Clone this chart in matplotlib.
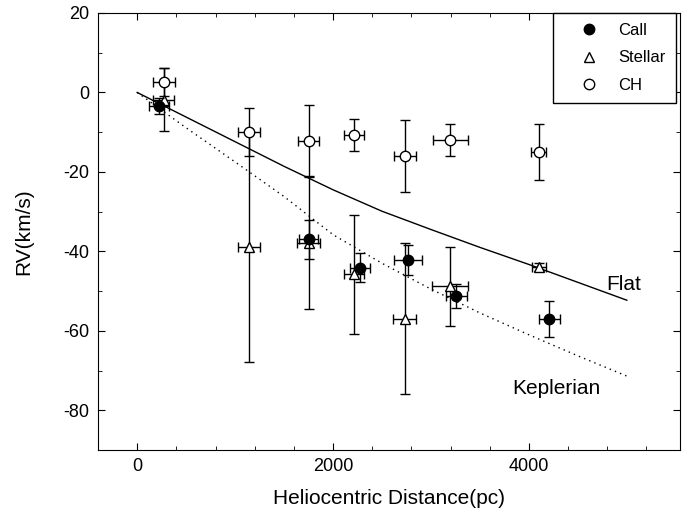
import numpy as np
import matplotlib
matplotlib.use("Agg")
import matplotlib.pyplot as plt
from matplotlib.ticker import MultipleLocator

plt.rcParams['font.family'] = ['Liberation Sans', 'DejaVu Sans']
plt.rcParams['axes.unicode_minus'] = False

# Call
call_x = [224, 1750, 2274, 2763, 3260, 4208]
call_y = [-3.3, -37, -44.1, -42.1, -51.2, -57]
call_xerr = [100, 100, 105, 145, 110, 105]
call_yerr = [2, 5, 3.6, 3.8, 3, 4.5]

# Stellar
stel_x = [270, 1141, 1750, 2213, 2730, 3196, 4107]
stel_y = [-1.8, -38.9, -37.9, -45.8, -57, -48.8, -44]
stel_xerr = [110, 114, 116, 99, 114, 184, 71]
stel_yerr = [8, 29, 16.5, 15, 19, 10, 1]

# CH
ch_x = [273, 1141, 1751, 2211, 2736, 3199, 4100]
ch_y = [2.6, -10, -12.1, -10.8, -16, -11.9, -15]
ch_xerr = [110, 114, 110, 100, 112, 182, 77]
ch_yerr = [3.5, 6, 9, 4, 9, 4, 7]

# model curves
model_d = [0, 500, 1000, 1500, 2000, 2500, 3000, 3500, 4000, 4500, 5000]
flat_rv = [0, -6.2, -12.4, -18.6, -24.5, -29.9, -34.5, -39.0, -43.3, -47.8, -52.3]
kepl_rv = [0, -8.9, -17.5, -26.2, -35.8, -43.0, -49.5, -55.5, -61.0, -66.3, -71.4]

fig = plt.figure(figsize=(6.82, 5.2), dpi=100)
ax = fig.add_axes([0.1437, 0.1346, 0.853, 0.8404])

ax.plot(model_d, flat_rv, color='black', lw=1)
ax.plot(model_d, kepl_rv, color='black', lw=1, linestyle=(0, (1, 3)))

eb = dict(ecolor='black', elinewidth=1, capsize=3.5, capthick=1, markersize=7.5,
          markeredgecolor='black', markeredgewidth=1, linestyle='none')
ax.errorbar(stel_x, stel_y, xerr=stel_xerr, yerr=stel_yerr, fmt='^',
            markerfacecolor='white', label='Stellar', zorder=3, **eb)
ax.errorbar(ch_x, ch_y, xerr=ch_xerr, yerr=ch_yerr, fmt='o',
            markerfacecolor='white', label='CH', zorder=3, **eb)
ax.errorbar(call_x, call_y, xerr=call_xerr, yerr=call_yerr, fmt='o',
            markerfacecolor='black', label='Call', zorder=4, **eb)

ax.text(4790, -48.3, 'Flat', fontsize=15, va='center', ha='left')
ax.text(3831, -74.5, 'Keplerian', fontsize=15, va='center', ha='left')

ax.set_xlim(-400, 5540)
ax.set_ylim(-90, 20)
ax.xaxis.set_major_locator(MultipleLocator(2000))
ax.xaxis.set_minor_locator(MultipleLocator(400))
ax.yaxis.set_major_locator(MultipleLocator(20))
ax.yaxis.set_minor_locator(MultipleLocator(10))
ax.tick_params(which='both', direction='in', top=True, right=True, labelsize=13)
ax.tick_params(which='major', length=5, pad=6)
ax.tick_params(which='minor', length=3)

ax.set_xlabel('Heliocentric Distance(pc)', fontsize=15, labelpad=10)
ax.set_ylabel('RV(km/s)', fontsize=15, labelpad=22)

handles, labels = ax.get_legend_handles_labels()
order = [labels.index(l) for l in ['Call', 'Stellar', 'CH']]
leg = ax.legend([handles[i][0] for i in order], [labels[i] for i in order],
                loc='upper right', bbox_to_anchor=(0.993, 1.0), borderaxespad=0,
                fontsize=12, fancybox=False, framealpha=1, edgecolor='black',
                borderpad=0.6, handlelength=3.1, handletextpad=0.2,
                labelspacing=0.75)
leg.get_frame().set_linewidth(1)

fig.savefig('out.png', dpi=100)
